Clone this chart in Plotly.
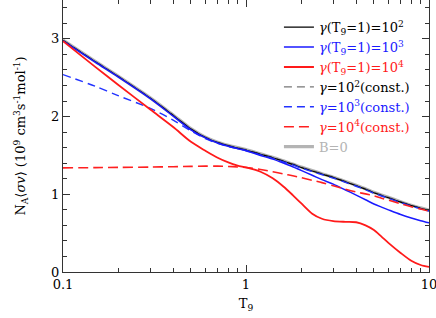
import plotly.graph_objects as go

T = [0.1, 0.15, 0.2, 0.3, 0.4, 0.5, 0.6, 0.7, 0.8, 0.9, 1.0, 1.2, 1.4, 1.6, 1.8, 2.0,
     2.3, 2.6, 3.0, 3.5, 4.0, 4.5, 5.0, 5.5, 6.0, 7.0, 8.0, 9.0, 10.0]

b0 = [2.985, 2.71, 2.52, 2.24, 2.02, 1.845, 1.735, 1.67, 1.63, 1.60, 1.575, 1.52, 1.475, 1.43, 1.39, 1.35,
      1.305, 1.265, 1.22, 1.165, 1.115, 1.07, 1.025, 0.99, 0.96, 0.905, 0.86, 0.825, 0.795]
g2_t = [2.98, 2.705, 2.515, 2.235, 2.015, 1.84, 1.73, 1.665, 1.625, 1.595, 1.57, 1.515, 1.47, 1.425, 1.385, 1.345,
        1.30, 1.26, 1.215, 1.16, 1.11, 1.065, 1.02, 0.985, 0.955, 0.90, 0.855, 0.82, 0.79]
g3_t = [2.975, 2.70, 2.51, 2.23, 2.005, 1.83, 1.725, 1.66, 1.618, 1.587, 1.56, 1.50, 1.452, 1.402, 1.355, 1.307,
        1.245, 1.188, 1.13, 1.055, 0.99, 0.93, 0.875, 0.835, 0.80, 0.74, 0.695, 0.66, 0.632]
g4_t = [2.97, 2.64, 2.41, 2.09, 1.865, 1.675, 1.56, 1.47, 1.41, 1.37, 1.345, 1.29, 1.205, 1.10, 0.99, 0.885,
        0.75, 0.685, 0.655, 0.645, 0.64, 0.60, 0.54, 0.455, 0.375, 0.245, 0.145, 0.09, 0.065]
g2_c = [2.985, 2.71, 2.52, 2.24, 2.02, 1.845, 1.735, 1.67, 1.63, 1.60, 1.575, 1.52, 1.475, 1.43, 1.39, 1.35,
        1.305, 1.265, 1.22, 1.165, 1.115, 1.07, 1.025, 0.99, 0.96, 0.905, 0.86, 0.825, 0.795]
g3_c = [2.54, 2.39, 2.27, 2.105, 1.955, 1.815, 1.715, 1.655, 1.615, 1.588, 1.563, 1.508, 1.463, 1.418, 1.378, 1.338,
        1.293, 1.253, 1.208, 1.153, 1.103, 1.058, 1.013, 0.978, 0.948, 0.893, 0.848, 0.813, 0.785]
g4_c = [1.34, 1.343, 1.346, 1.35, 1.355, 1.359, 1.362, 1.362, 1.358, 1.352, 1.345, 1.32, 1.29, 1.262, 1.238, 1.215,
        1.18, 1.15, 1.11, 1.065, 1.03, 1.005, 0.98, 0.95, 0.925, 0.878, 0.84, 0.81, 0.785]

x_ticks = [0.1, 1, 10]
x_ticktext = ["0.1", "1", "10"]
x_minor = [0.2, 0.3, 0.4, 0.5, 0.6, 0.7, 0.8, 0.9, 2, 3, 4, 5, 6, 7, 8, 9]
y_ticks = [0, 1, 2, 3]
y_minor = [0.2, 0.4, 0.6, 0.8, 1.2, 1.4, 1.6, 1.8, 2.2, 2.4, 2.6, 2.8, 3.2, 3.4]

FONT = "DejaVu Serif"
FS = 13

def lbl(txt, color):
    return f"<span style='color:{color}'>{txt}</span>"

def line(color, width, dash=None):
    d = dict(color=color, width=width, shape="spline", smoothing=0.8)
    if dash:
        d["dash"] = dash
    return d

fig = go.Figure()
fig.add_trace(go.Scatter(x=T, y=b0, mode="lines", line=line("#b4b4b4", 3.2),
                         name=lbl("B=0", "#b4b4b4"), legendrank=7))
fig.add_trace(go.Scatter(x=T, y=g2_c, mode="lines", line=line("#777777", 1.3, "8px,5px"),
                         name=lbl("<i>γ</i>=10<sup>2</sup>(const.)", "black"), legendrank=4))
fig.add_trace(go.Scatter(x=T, y=g2_t, mode="lines", line=line("black", 1.2),
                         name=lbl("<i>γ</i>(T<sub>9</sub>=1)=10<sup>2</sup>", "black"), legendrank=1))
fig.add_trace(go.Scatter(x=T, y=g3_c, mode="lines", line=line("#2233ff", 1.4, "8px,5px"),
                         name=lbl("<i>γ</i>=10<sup>3</sup>(const.)", "#1a1aff"), legendrank=5))
fig.add_trace(go.Scatter(x=T, y=g3_t, mode="lines", line=line("#1a1aff", 1.5),
                         name=lbl("<i>γ</i>(T<sub>9</sub>=1)=10<sup>3</sup>", "#1a1aff"), legendrank=2))
fig.add_trace(go.Scatter(x=T, y=g4_c, mode="lines", line=line("#ff2020", 1.6, "10px,5px"),
                         name=lbl("<i>γ</i>=10<sup>4</sup>(const.)", "#ff1a1a"), legendrank=6))
fig.add_trace(go.Scatter(x=T, y=g4_t, mode="lines", line=line("#ff1a1a", 1.8),
                         name=lbl("<i>γ</i>(T<sub>9</sub>=1)=10<sup>4</sup>", "#ff1a1a"), legendrank=3))

axcommon = dict(showgrid=False, zeroline=False, showline=True, linecolor="#333333", linewidth=1,
                mirror="ticks", ticks="inside", ticklen=7, tickcolor="#333333", tickwidth=1,
                ticklabeloverflow="allow",
                tickfont=dict(family=FONT, size=FS, color="black"))

fig.update_xaxes(type="log", range=[-1, 1], tickvals=x_ticks, ticktext=x_ticktext,
                 minor=dict(tickvals=x_minor, ticks="inside", ticklen=4, tickcolor="#333333"),
                 title=dict(text="T<sub>9</sub>", font=dict(family=FONT, size=FS, color="black"), standoff=8),
                 **axcommon)
fig.update_yaxes(range=[0, 3.5], tickvals=y_ticks,
                 minor=dict(tickvals=y_minor, ticks="inside", ticklen=4, tickcolor="#333333"),
                 title=dict(text="N<sub>A</sub>⟨<i>σv</i>⟩ (10<sup>9</sup> cm<sup>3</sup>s<sup>-1</sup>mol<sup>-1</sup>)",
                            font=dict(family=FONT, size=FS, color="black"), standoff=22),
                 **axcommon)

fig.update_layout(width=436, height=318, margin=dict(l=63, r=7, t=0, b=46, autoexpand=False),
                  plot_bgcolor="white", paper_bgcolor="white",
                  font=dict(family=FONT, size=FS, color="black"),
                  legend=dict(x=0.59, y=0.955, xanchor="left", yanchor="top", bgcolor="rgba(0,0,0,0)",
                              font=dict(family=FONT, size=FS), tracegroupgap=0, itemwidth=30),
                  showlegend=True)

fig.write_html("out.html", config={"displayModeBar": False},
               post_script="document.body.style.margin='0';document.body.style.overflow='hidden';")
